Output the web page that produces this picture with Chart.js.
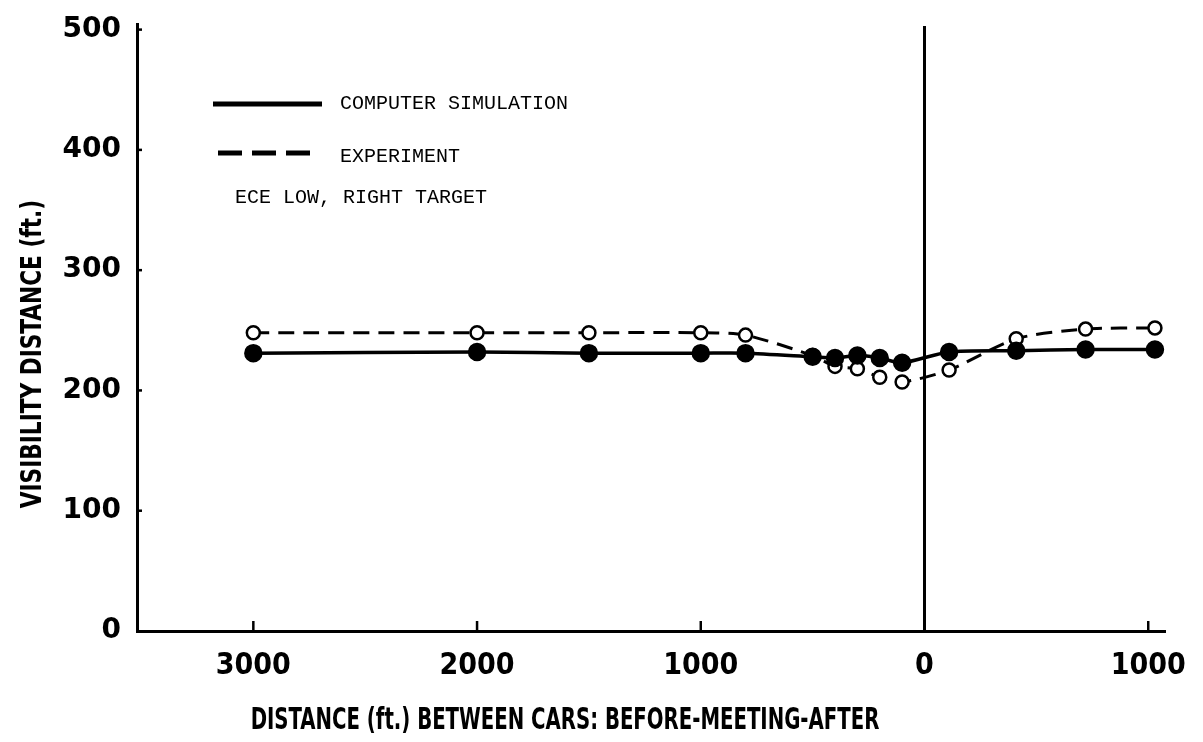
<!DOCTYPE html>
<html>
<head>
<meta charset="utf-8">
<script src="https://cdn.jsdelivr.net/npm/chart.js@4.4.1/dist/chart.umd.min.js"></script>
<style>
  html, body { margin: 0; padding: 0; background: #fff; }
  #wrap { width: 1203px; height: 742px; position: relative; }
</style>
</head>
<body>
<div id="wrap"><canvas id="chart" width="1203" height="742"></canvas></div>
<script>
// distance between cars, negative = before meeting, positive = after
const distances = [-3000, -2000, -1500, -1000, -800, -500, -400, -300, -200, -100, 110, 410, 720, 1030]
const simulation = [231, 232, 231, 231, 231, 228, 227, 229, 227, 223, 232, 233, 234, 234]
const experiment = [248, 248, 248, 248, 246, 229, 220, 218, 211, 207, 217, 243, 251, 252]
const xTicks = [-3000, -2000, -1000, 0, 1000]
const yTicks = [0, 100, 200, 300, 400, 500]
const meetingLine = [0, 503]
const xTitle = 'DISTANCE (ft.) BETWEEN CARS: BEFORE-MEETING-AFTER'
const yTitle = 'VISIBILITY DISTANCE (ft.)'

const pts = arr => distances.map((d, i) => ({x: d, y: arr[i]}))

const condensed = "'DejaVu Sans Condensed', 'Liberation Sans Narrow', 'DejaVu Sans', sans-serif"

// squeezed text, the print uses a narrow bold face
function narrowText(ctx, text, x, y, squeeze, rot){
    ctx.save()
    ctx.translate(x, y)
    if(rot) ctx.rotate(rot)
    ctx.scale(squeeze, 1)
    ctx.fillText(text, 0, 0)
    ctx.restore()
}

// legend, inward ticks, titles and the meeting line
const extras = {
    id: 'extras',
    afterDraw(chart){
        const ctx = chart.ctx
        const x = chart.scales.x, y = chart.scales.y
        ctx.save()
        ctx.strokeStyle = '#000'
        // meeting line at 0
        ctx.lineWidth = 3
        ctx.beginPath()
        ctx.moveTo(x.getPixelForValue(0), y.getPixelForValue(meetingLine[0]))
        ctx.lineTo(x.getPixelForValue(0), y.getPixelForValue(meetingLine[1]))
        ctx.stroke()
        // tick marks pointing inward
        ctx.lineWidth = 2.5
        xTicks.forEach(v => {
            if(v === 0) return
            const px = x.getPixelForValue(v)
            ctx.beginPath(); ctx.moveTo(px, y.bottom - 1); ctx.lineTo(px, y.bottom - 10); ctx.stroke()
        })
        yTicks.forEach(v => {
            if(v === 0) return
            const py = y.getPixelForValue(v)
            ctx.beginPath(); ctx.moveTo(x.left, py); ctx.lineTo(x.left + 5, py); ctx.stroke()
        })
        // legend
        ctx.lineWidth = 5
        ctx.beginPath(); ctx.moveTo(213, 104); ctx.lineTo(322, 104); ctx.stroke()
        ctx.setLineDash([24, 10])
        ctx.beginPath(); ctx.moveTo(218, 153); ctx.lineTo(320, 153); ctx.stroke()
        ctx.setLineDash([])
        ctx.fillStyle = '#000'
        ctx.font = "20px 'Liberation Mono', 'DejaVu Sans Mono', monospace"
        ctx.textBaseline = 'middle'
        ctx.textAlign = 'left'
        ctx.fillText('COMPUTER SIMULATION', 340, 104)
        ctx.fillText('EXPERIMENT', 340, 157)
        ctx.fillText('ECE LOW, RIGHT TARGET', 235, 198)
        // axis titles
        ctx.textAlign = 'center'
        ctx.font = "bold 30px " + condensed
        narrowText(ctx, xTitle, 565, 721, 0.73, 0)
        ctx.font = "bold 28px " + condensed
        narrowText(ctx, yTitle, 34, 354, 0.86, -Math.PI / 2)
        ctx.restore()
    }
}

new Chart(document.getElementById('chart'), {
    type: 'scatter',
    data: {
        datasets: [{
            label: 'COMPUTER SIMULATION',
            data: pts(simulation),
            showLine: true,
            borderColor: '#000',
            borderWidth: 3.5,
            tension: 0.25,
            pointRadius: 7.5,
            pointBackgroundColor: '#000',
            pointBorderColor: '#000'
        }, {
            label: 'EXPERIMENT',
            data: pts(experiment),
            showLine: true,
            borderColor: '#000',
            borderWidth: 3,
            borderDash: [16, 9],
            tension: 0.25,
            pointRadius: 6.5,
            pointBorderWidth: 2.5,
            pointBackgroundColor: '#fff',
            pointBorderColor: '#000'
        }]
    },
    options: {
        responsive: false,
        animation: false,
        layout: {padding: {top: 6, right: 38, left: 0, bottom: 0}},
        plugins: {legend: {display: false}, tooltip: {enabled: false}},
        scales: {
            x: {
                type: 'linear',
                min: -3520, max: 1075,
                afterBuildTicks: axis => { axis.ticks = xTicks.map(v => ({value: v})) },
                afterFit: s => { s.height = 111 },
                border: {color: '#000', width: 3},
                grid: {display: false},
                ticks: {
                    color: '#000', padding: 9,
                    font: {family: condensed, size: 30, weight: 'bold'},
                    callback: v => String(Math.abs(v))
                }
            },
            y: {
                min: 0, max: 504,
                afterBuildTicks: axis => { axis.ticks = yTicks.map(v => ({value: v})) },
                afterFit: s => { s.width = 137 },
                border: {color: '#000', width: 3},
                grid: {display: false},
                ticks: {
                    color: '#000', padding: 8,
                    font: {family: "'DejaVu Sans', sans-serif", size: 28, weight: 'bold'}
                }
            }
        }
    },
    plugins: [extras]
})
</script>
</body>
</html>
